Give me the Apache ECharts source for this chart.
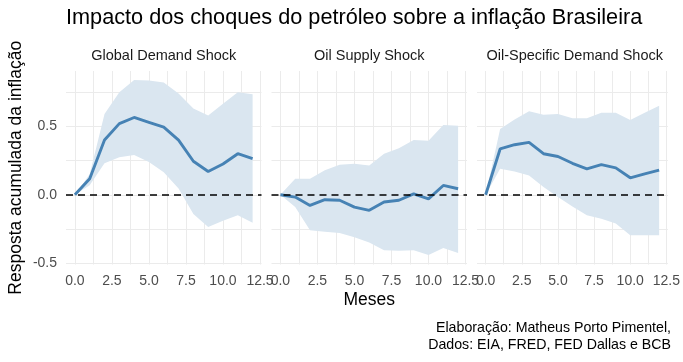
<!DOCTYPE html>
<html><head><meta charset="utf-8">
<script src="https://cdn.jsdelivr.net/npm/echarts@6/dist/echarts.min.js"></script>
<style>html,body{margin:0;padding:0;background:#fff}#c{width:683px;height:362px}</style>
</head><body><div id="c"></div>
<script>
// ---- data ----
const months = [0,1,2,3,4,5,6,7,8,9,10,11,12];
const panelTitles = ['Global Demand Shock', 'Oil Supply Shock', 'Oil-Specific Demand Shock'];

const globalMean  = [0, 0.117, 0.40, 0.52, 0.565, 0.53, 0.495, 0.40, 0.245, 0.17, 0.225, 0.30, 0.265];
const globalUpper = [0, 0.15, 0.59, 0.75, 0.84, 0.835, 0.82, 0.74, 0.63, 0.58, 0.665, 0.75, 0.735];
const globalLower = [0, 0.07, 0.23, 0.275, 0.29, 0.24, 0.165, 0.045, -0.14, -0.235, -0.19, -0.15, -0.205];

const supplyMean  = [0, -0.017, -0.078, -0.036, -0.04, -0.09, -0.114, -0.053, -0.04, 0.007, -0.03, 0.068, 0.044];
const supplyUpper = [0, 0.117, 0.117, 0.18, 0.22, 0.226, 0.214, 0.30, 0.34, 0.40, 0.395, 0.51, 0.505];
const supplyLower = [0, -0.09, -0.26, -0.27, -0.28, -0.31, -0.35, -0.405, -0.41, -0.405, -0.44, -0.39, -0.425];

const specificMean  = [0, 0.335, 0.366, 0.383, 0.30, 0.28, 0.23, 0.19, 0.22, 0.197, 0.124, 0.153, 0.18];
const specificUpper = [0, 0.48, 0.55, 0.61, 0.585, 0.59, 0.56, 0.56, 0.60, 0.60, 0.546, 0.60, 0.65];
const specificLower = [0, 0.19, 0.17, 0.14, 0.056, -0.017, -0.085, -0.15, -0.175, -0.21, -0.296, -0.296, -0.296];

const xTickLabels = [0, 2.5, 5, 7.5, 10, 12.5];
const xGridValues = [0, 1.25, 2.5, 3.75, 5, 6.25, 7.5, 8.75, 10, 11.25, 12.5];
const yTickLabels = [-0.5, 0, 0.5];
const yGridValues = [-0.5, -0.25, 0, 0.25, 0.5, 0.75];

const titleText = 'Impacto dos choques do petróleo sobre a inflação Brasileira';
const xAxisTitle = 'Meses';
const yAxisTitle = 'Resposta acumulada da inflação';
const captionLines = ['Elaboração: Matheus Porto Pimentel,', 'Dados: EIA, FRED, FED Dallas e BCB'];

// ---- chart ----
const FONT = '"Liberation Sans", Arial, Helvetica, sans-serif';
const panels = [
  {mean: globalMean, upper: globalUpper, lower: globalLower},
  {mean: supplyMean, upper: supplyUpper, lower: supplyLower},
  {mean: specificMean, upper: specificUpper, lower: specificLower}
];
const lefts = [66, 271.5, 477];
const PW = 195.5, TOP = 71, PH = 193.5;

const grids = [], xAxes = [], yAxes = [], series = [], graphics = [];
panels.forEach((p, i) => {
  grids.push({left: lefts[i], top: TOP, width: PW, height: PH, containLabel: false});
  xAxes.push({
    type: 'value', gridIndex: i, min: -0.6, max: 12.6,
    axisLine: {show: false},
    axisTick: {show: false, customValues: xGridValues},
    splitLine: {show: true, lineStyle: {color: '#ebebeb', width: 1}},
    axisLabel: {customValues: xTickLabels, formatter: v => v.toFixed(1), color: '#4d4d4d',
      fontSize: 14, fontFamily: FONT, margin: 9.5, showMinLabel: true, showMaxLabel: true, hideOverlap: false}
  });
  yAxes.push({
    type: 'value', gridIndex: i, min: -0.51, max: 0.905,
    axisLine: {show: false},
    axisTick: {show: false, customValues: yGridValues},
    splitLine: {show: true, lineStyle: {color: '#ebebeb', width: 1}},
    axisLabel: {show: i === 0, customValues: yTickLabels, formatter: v => v.toFixed(1), color: '#4d4d4d',
      fontSize: 14, fontFamily: FONT, margin: 9}
  });
  // confidence band as a polygon (upper forward, lower backward)
  series.push({
    type: 'custom', xAxisIndex: i, yAxisIndex: i, silent: true, z: 1, clip: true,
    data: months.map((m, k) => [m, p.lower[k], p.upper[k]]),
    encode: {x: 0, y: [1, 2]},
    renderItem: (params, api) => {
      if (params.dataIndex !== 0) return null;
      const pts = [];
      months.forEach((m, k) => pts.push(api.coord([m, p.upper[k]])));
      for (let k = months.length - 1; k >= 0; k--) pts.push(api.coord([months[k], p.lower[k]]));
      return {type: 'polygon', shape: {points: pts}, style: {fill: '#dae6f0', stroke: null}};
    }
  });
  series.push({
    type: 'line', xAxisIndex: i, yAxisIndex: i,
    data: months.map((m, k) => [m, p.mean[k]]),
    symbol: 'none', lineStyle: {color: '#4682b4', width: 2.9}, silent: true, z: 3,
    markLine: {
      silent: true, symbol: 'none', z: 5, animation: false,
      label: {show: false},
      lineStyle: {color: '#000', width: 1.6, type: [7, 5]},
      data: [{yAxis: 0}]
    }
  });
  graphics.push({
    type: 'text', x: lefts[i] + PW / 2, y: 56,
    style: {text: panelTitles[i], fill: '#1a1a1a', font: '14.5px ' + FONT, textAlign: 'center', textVerticalAlign: 'middle'}
  });
});

graphics.push({
  type: 'text', x: 66, y: 18.5,
  style: {text: titleText, fill: '#000', font: '21.7px ' + FONT, textAlign: 'left', textVerticalAlign: 'middle'}
});
graphics.push({
  type: 'text', x: (lefts[0] + lefts[2] + PW) / 2, y: 300,
  style: {text: xAxisTitle, fill: '#000', font: '17.5px ' + FONT, textAlign: 'center', textVerticalAlign: 'middle'}
});
graphics.push({
  type: 'text', x: 16, y: TOP + PH / 2, rotation: Math.PI / 2,
  style: {text: yAxisTitle, fill: '#000', font: '17.5px ' + FONT, textAlign: 'center', textVerticalAlign: 'middle'}
});
captionLines.forEach((t, k) => {
  graphics.push({
    type: 'text', x: 671, y: 328 + k * 17,
    style: {text: t, fill: '#000', font: '14.2px ' + FONT, textAlign: 'right', textVerticalAlign: 'middle'}
  });
});

const chart = echarts.init(document.getElementById('c'), null, {renderer: 'canvas'});
chart.setOption({
  animation: false,
  backgroundColor: '#fff',
  grid: grids, xAxis: xAxes, yAxis: yAxes, series: series, graphic: graphics
});
</script></body></html>
